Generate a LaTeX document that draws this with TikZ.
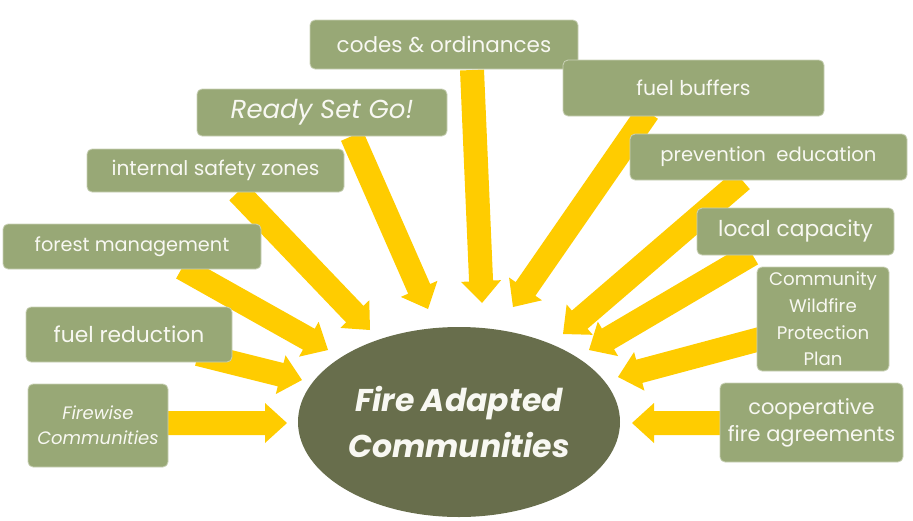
\documentclass[tikz,border=0pt]{standalone}
\usepackage{fontspec}
\setmainfont{Poppins}
\usetikzlibrary{calc,shapes.geometric}
\definecolor{boxgreen}{HTML}{98A876}
\definecolor{boxedge}{HTML}{C9D1B6}
\definecolor{ovalgreen}{HTML}{686E4C}
\definecolor{arrowyellow}{HTML}{FFCC00}
\definecolor{txtwhite}{HTML}{F8F8F2}
\newcommand\fatarrow[2]{%
  \coordinate (#1-h) at ($(#2)!22pt!(#1)$);
  \fill[arrowyellow] ($(#1)!12pt!90:(#2)$) -- ($(#1-h)!12pt!90:(#2)$) -- ($(#1-h)!20pt!90:(#2)$) -- (#2)
    -- ($(#1-h)!20pt!-90:(#2)$) -- ($(#1-h)!12pt!-90:(#2)$) -- ($(#1)!12pt!-90:(#2)$) -- cycle;}
\newcommand\fsz[2]{\fontsize{#1}{#2}\selectfont}
\tikzset{
  gbox/.style={rectangle, rounded corners=5pt, fill=boxgreen, draw=boxedge, line width=0.8pt,
    text=txtwhite, align=center, inner sep=0pt, font=\fsz{20}{24}},
  hub/.style={ellipse, fill=ovalgreen, text=txtwhite, align=center, inner sep=0pt,
    font=\fsz{31.5}{46}\bfseries\itshape}
}
\begin{document}
\begin{tikzpicture}[x=1pt,y=-1pt]
\useasboundingbox (0,0) rectangle (913,520);
% hub
\node[hub, minimum width=322pt, minimum height=190pt] (fac) at (459,422) {Fire Adapted\\Communities};
% arrow tails and tips
\coordinate (t1) at (472,70);  \coordinate (p1) at (482,303);
\coordinate (t2) at (352,136); \coordinate (p2) at (428,309);
\coordinate (t3) at (238,192); \coordinate (p3) at (370,330);
\coordinate (t4) at (182,268); \coordinate (p4) at (328,350);
\coordinate (t5) at (198,354); \coordinate (p5) at (302,380);
\coordinate (t6) at (168,423); \coordinate (p6) at (287,423);
\coordinate (t7) at (648,112); \coordinate (p7) at (513,307);
\coordinate (t8) at (742,180); \coordinate (p8) at (563,334);
\coordinate (t9) at (752,254); \coordinate (p9) at (589,350);
\coordinate (t10) at (760,339); \coordinate (p10) at (618,377);
\coordinate (t11) at (722,423); \coordinate (p11) at (632,423);
\foreach \i in {1,...,11} {\fatarrow{t\i}{p\i}}
% boxes
\node[gbox, font=\fsz{21.5}{24}, minimum width=268pt, minimum height=49pt] (codes) at (444,44.5) {codes \& ordinances};
\node[gbox, font=\fsz{20.4}{24}, minimum width=261pt, minimum height=56pt] (buffers) at (693.5,88) {fuel buffers};
\node[gbox, font=\fsz{26}{30}, minimum width=250pt, minimum height=47pt] (rsg) at (322,112.5) {\itshape Ready Set Go!};
\node[gbox, font=\fsz{20.2}{24}, minimum width=257pt, minimum height=43pt] (isz) at (215.5,170.5) {internal safety zones};
\node[gbox, font=\fsz{19.3}{24}, minimum width=258pt, minimum height=45pt] (forest) at (132,246.5) {forest management};
\node[gbox, font=\fsz{21.8}{24}, minimum width=206pt, minimum height=55pt] (fuelred) at (129,334.5) {fuel reduction};
\node[gbox, font=\fsz{18}{25}, minimum width=140pt, minimum height=83pt] (firewise) at (98,425.5) {\itshape Firewise\\\itshape Communities};
\node[gbox, font=\fsz{19.6}{24}, minimum width=277pt, minimum height=46pt] (prev) at (768.5,157) {prevention\ \ education};
\node[gbox, font=\fsz{21.8}{24}, minimum width=197pt, minimum height=47pt] (local) at (795.5,231.5) {local capacity};
\node[gbox, font=\fsz{18.2}{26.7}, minimum width=132pt, minimum height=104pt] (cwpp) at (823,319) {Community\\Wildfire\\Protection\\Plan};
\node[gbox, font=\fsz{21}{27}, minimum width=183pt, minimum height=79pt] (coop) at (811.5,422.5) {cooperative\\fire agreements};
\end{tikzpicture}
\end{document}
